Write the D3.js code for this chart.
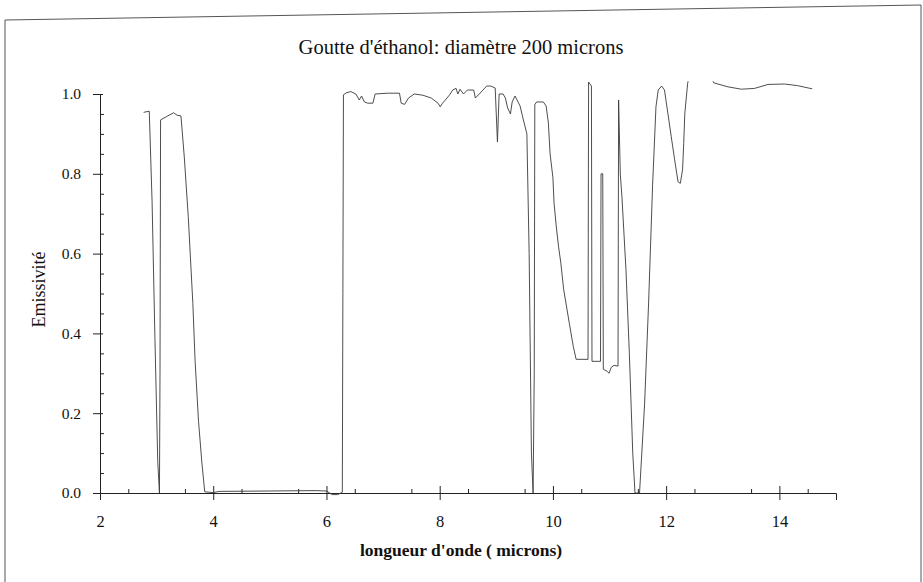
<!DOCTYPE html>
<html>
<head>
<meta charset="utf-8">
<script src="https://cdn.jsdelivr.net/npm/d3@7"></script>
</head>
<body style="margin:0; background:#fff">
<svg id="chart" width="923" height="582"></svg>
<script>
var title = "Goutte d'éthanol: diamètre 200 microns",
    xTitle = "longueur d'onde ( microns)",
    yTitle = "Emissivité";

var xMajor = [2, 4, 6, 8, 10, 12, 14],
    yMajor = [0, 0.2, 0.4, 0.6, 0.8, 1.0];

var fontName = "'Liberation Serif'";

// readings
var wavelength = [2.77, 2.87, 2.92, 2.97, 3.02, 3.05, 3.06, 3.07, 3.17, 3.30, 3.36, 3.43,
    3.49, 3.56, 3.64, 3.68, 3.74, 3.80, 3.85, 4.0, 4.1, 5.0, 5.8, 6.0, 6.1, 6.2, 6.28,
    6.29, 6.30, 6.35, 6.43, 6.52, 6.58, 6.62, 6.67, 6.73, 6.82, 6.86, 7.08, 7.29, 7.32,
    7.38, 7.45, 7.55, 7.70, 7.85, 7.97, 8.01, 8.05, 8.10, 8.17, 8.23, 8.29, 8.32, 8.36,
    8.42, 8.49, 8.60, 8.63, 8.70, 8.83, 8.90, 8.98, 9.02, 9.05, 9.12, 9.16, 9.20, 9.25,
    9.28, 9.33, 9.42, 9.47, 9.54, 9.58, 9.62, 9.65, 9.67, 9.68, 9.71, 9.83, 9.88, 9.92,
    9.95, 10.0, 10.02, 10.06, 10.10, 10.14, 10.19, 10.29, 10.36, 10.41, 10.62, 10.63,
    10.68, 10.69, 10.84, 10.85, 10.88, 10.89, 10.96, 10.99, 11.03, 11.08, 11.15, 11.16,
    11.19, 11.22, 11.29, 11.35, 11.41, 11.45, 11.53, 11.62, 11.69, 11.76, 11.82, 11.86,
    11.92, 11.97, 12.03, 12.09, 12.15, 12.21, 12.25, 12.29, 12.31, 12.33, 12.38, 12.45,
    12.6, 12.75, 12.84, 13.09, 13.33, 13.56, 13.80, 14.09, 14.32, 14.58];

var emissivity = [0.954, 0.957, 0.73, 0.39, 0.08, 0.0, 0.3, 0.935, 0.943, 0.953, 0.947, 0.945,
    0.84, 0.69, 0.475, 0.33, 0.18, 0.075, 0.003, 0.001, 0.004, 0.005, 0.006, 0.005, -0.004, -0.004, 0.002,
    0.5, 0.998, 1.003, 1.006, 1.0, 0.985, 0.995, 0.98, 0.977, 0.977, 1.0, 1.002, 1.002, 0.977,
    0.974, 0.99, 1.0, 0.997, 0.99, 0.977, 0.968, 0.977, 0.985, 0.997, 1.01, 1.014, 1.0, 1.012,
    1.0, 1.01, 1.01, 0.99, 1.0, 1.02, 1.02, 1.015, 0.88, 1.0, 1.0, 0.99, 0.965, 0.95,
    0.98, 0.995, 0.97, 0.94, 0.9, 0.6, 0.1, 0.0, 0.3, 0.973, 0.98, 0.98, 0.97, 0.927,
    0.85, 0.79, 0.726, 0.667, 0.617, 0.576, 0.51, 0.425, 0.367, 0.335, 0.335, 1.03,
    1.02, 0.33, 0.33, 0.80, 0.80, 0.31, 0.305, 0.30, 0.315, 0.32, 0.318, 0.985,
    0.80, 0.74, 0.56, 0.35, 0.10, 0.0, 0.0, 0.225, 0.476, 0.77, 0.968, 1.01,
    1.02, 1.01, 0.952, 0.893, 0.835, 0.78, 0.776, 0.81, 0.876, 0.952, 1.027, 1.07,
    1.09, 1.06, 1.028, 1.018, 1.012, 1.014, 1.024, 1.025, 1.021, 1.013];

var svg = d3.select("#chart");

var x = d3.scaleLinear().domain([2, 15]).range([100, 836]),
    y = d3.scaleLinear().domain([0, 1]).range([493, 94]);

// scanned page frame
svg.append("path")
    .attr("d", "M5,582 L5,20 L921,5 L921,582")
    .attr("fill", "none")
    .attr("stroke", "#555")
    .attr("stroke-width", 1);

svg.append("text")
    .attr("x", 461)
    .attr("y", 54)
    .attr("text-anchor", "middle")
    .style("font-family", fontName)
    .style("font-size", "20.5px")
    .attr("fill", "#111")
    .text(title);

// x axis
var xAxis = svg.append("g")
    .attr("transform", "translate(0," + y(0) + ")")
    .call(d3.axisBottom(x).tickValues(xMajor).tickSize(7).tickPadding(15).tickFormat(d3.format("d")));
xAxis.selectAll(".tick line").attr("y1", -7);

svg.append("g")
    .attr("transform", "translate(0," + y(0) + ")")
    .call(d3.axisBottom(x).tickValues(d3.range(2.5, 15.01, 1)).tickSize(-4).tickFormat(""))
    .select(".domain").remove();

// y axis
var yAxis = svg.append("g")
    .attr("transform", "translate(" + x(2) + ",0)")
    .call(d3.axisLeft(y).tickValues(yMajor).tickSize(7).tickPadding(12).tickFormat(d3.format(".1f")));
yAxis.selectAll(".tick line").attr("x1", 3);

svg.append("g")
    .attr("transform", "translate(" + x(2) + ",0)")
    .call(d3.axisLeft(y).tickValues([0.05, 0.1, 0.15, 0.25, 0.3, 0.35, 0.45, 0.5, 0.55, 0.65, 0.7, 0.75, 0.85, 0.9, 0.95]).tickSize(-4).tickFormat(""))
    .select(".domain").remove();

svg.selectAll("g").attr("font-family", fontName).attr("font-size", 15);
svg.selectAll(".tick text")
    .style("font-family", fontName)
    .style("font-size", "15.5px")
    .attr("fill", "#111");
xAxis.selectAll(".tick text").style("font-size", "16.5px");
svg.selectAll(".domain, .tick line").attr("stroke", "#222");

svg.append("text")
    .attr("transform", "translate(45," + y(0.51) + ") rotate(-90)")
    .attr("text-anchor", "middle")
    .style("font-family", fontName)
    .style("font-size", "18px")
    .attr("fill", "#111")
    .text(yTitle);

svg.append("text")
    .attr("x", 461)
    .attr("y", 556)
    .attr("text-anchor", "middle")
    .style("font-family", fontName)
    .style("font-size", "17.5px")
    .style("font-weight", "bold")
    .attr("fill", "#111")
    .text(xTitle);

// curve, clipped a little above 1.0 like the original plot frame
svg.append("clipPath")
    .attr("id", "plotclip")
    .append("rect")
    .attr("x", x(2))
    .attr("y", y(1.032))
    .attr("width", x(15) - x(2))
    .attr("height", y(0) - y(1.032) + 10);

var points = d3.zip(wavelength, emissivity);

svg.append("path")
    .datum(points)
    .attr("clip-path", "url(#plotclip)")
    .attr("fill", "none")
    .attr("stroke", "#3a3a3a")
    .attr("stroke-width", 0.9)
    .attr("d", d3.line()
        .x(function(d) { return x(d[0]); })
        .y(function(d) { return y(d[1]); }));
</script>
</body>
</html>
